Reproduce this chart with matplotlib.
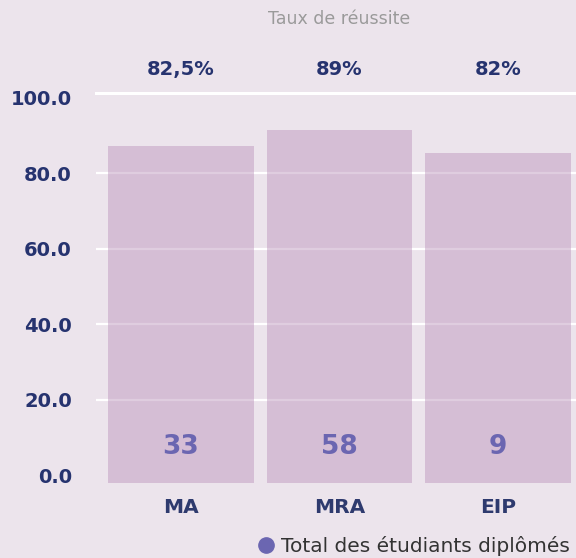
import matplotlib
matplotlib.use("Agg")
import matplotlib.pyplot as plt
from matplotlib.lines import Line2D

# données
categories = ["MA", "MRA", "EIP"]
bar_tops = [87.2, 91.5, 85.4]
taux_labels = ["82,5%", "89%", "82%"]
diplomes = [33, 58, 9]
y_ticks = [0, 20, 40, 60, 80, 100]

bg = "#ECE4EC"
navy = "#26336F"
cat_color = "#2E3A6E"
num_color = "#6B66B1"

fig = plt.figure(figsize=(5.76, 5.58), dpi=100)
fig.patch.set_facecolor(bg)
ax = fig.add_axes([95.5 / 576, 1 - 482.5 / 558, 1 - 95.5 / 576, (482.5 - 92.7) / 558])
ax.set_facecolor(bg)

y_min, y_max = -1.9, 101.35
ax.set_ylim(y_min, y_max)
ax.set_xlim(-0.539, 2.492)

x = list(range(len(categories)))

# lignes de grille blanches (sauf 0), plus la ligne du haut
for v in [20, 40, 60, 80]:
    ax.axhline(v, color="white", lw=1.6, zorder=1)
ax.axhline(y_max, color="white", lw=2.2, zorder=1, clip_on=False)

heights = [t - y_min for t in bar_tops]
ax.bar(x, heights, bottom=y_min, width=0.92, color="#B990B9", alpha=0.45,
       zorder=2, linewidth=0)

for xi, lab, n in zip(x, taux_labels, diplomes):
    ax.text(xi, 107.6, lab, ha="center", va="center", fontsize=14,
            fontweight="bold", color=navy, clip_on=False)
    ax.text(xi, 7.6, str(n), ha="center", va="center", fontsize=19,
            fontweight="bold", color=num_color, zorder=3)

ax.text(1, 120.9, "Taux de réussite", ha="center", va="center",
        fontsize=12.5, color="#9A9A9A", clip_on=False)

ax.set_yticks(y_ticks)
ax.set_yticklabels([f"{v:.1f}" for v in y_ticks], fontsize=14,
                   fontweight="bold", color=navy)
ax.set_xticks(x)
ax.set_xticklabels(categories, fontsize=14.5, fontweight="bold", color=cat_color)
ax.tick_params(axis="y", length=0, pad=17)
ax.tick_params(axis="x", length=0, pad=11)
for s in ax.spines.values():
    s.set_visible(False)

handle = Line2D([], [], marker="o", ls="", color=num_color, markersize=11)
fig.legend([handle], ["Total des étudiants diplômés"], loc="center right",
           bbox_to_anchor=(570 / 576, 1 - 546 / 558), frameon=False,
           fontsize=14.5, labelcolor="#333333", handletextpad=0.35,
           borderaxespad=0, borderpad=0, handlelength=0.8)

fig.savefig("out.png", dpi=100, facecolor=bg)
